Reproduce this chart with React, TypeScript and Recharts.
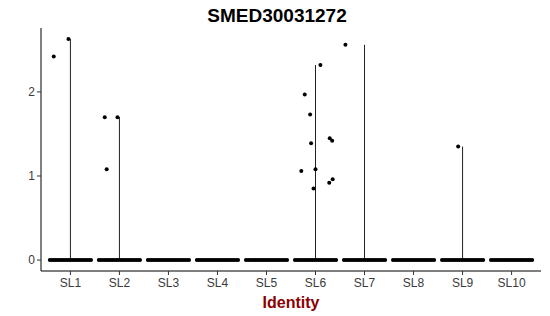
import { ComposedChart, ReferenceLine, Scatter, XAxis, YAxis } from "recharts";

const categories = ["SL1", "SL2", "SL3", "SL4", "SL5", "SL6", "SL7", "SL8", "SL9", "SL10"];

// top of each violin (max expression), 0 where nothing was expressed
const violinMax = [2.63, 1.7, 0, 0, 0, 2.32, 2.56, 0, 1.35, 0];

// expressed cells: [category index (1-based), jitter, value]
const expressed: [number, number, number][] = [
  [1, -0.34, 2.42],
  [1, -0.04, 2.63],
  [2, -0.3, 1.7],
  [2, -0.04, 1.7],
  [2, -0.26, 1.08],
  [6, 0.1, 2.32],
  [6, -0.22, 1.97],
  [6, -0.11, 1.73],
  [6, 0.29, 1.45],
  [6, 0.34, 1.42],
  [6, -0.09, 1.39],
  [6, -0.29, 1.06],
  [6, 0.0, 1.08],
  [6, 0.35, 0.96],
  [6, 0.28, 0.92],
  [6, -0.04, 0.85],
  [7, -0.39, 2.56],
  [9, -0.09, 1.35],
];

// jitter of the cells sitting at zero, reused for every cluster
const zeroJitter = [
  -0.42, -0.38, -0.34, -0.3, -0.26, -0.22, -0.18, -0.14, -0.1, -0.06, -0.02,
  0.02, 0.06, 0.1, 0.14, 0.18, 0.22, 0.26, 0.3, 0.34, 0.38, 0.42,
];

const yTicks = [0, 1, 2];

const zeroPoints = categories.flatMap((_, i) => zeroJitter.map((j) => ({ x: i + 1 + j, y: 0 })));
const expressedPoints = expressed.map(([c, j, v]) => ({ x: c + j, y: v }));

const font = "'Liberation Sans', Arial, sans-serif";

const Dot = (props: any) => <circle cx={props.cx} cy={props.cy} r={2} fill="#000" />;

export default function App() {
  return (
    <div style={{ position: "absolute", left: 0, top: 0, width: 550, height: 316, background: "#fff" }}>
      <div
        style={{
          position: "absolute",
          top: 5,
          left: 0,
          width: 554,
          textAlign: "center",
          fontFamily: font,
          fontWeight: "bold",
          fontSize: 19,
          color: "#000",
        }}
      >
        SMED30031272
      </div>
      <ComposedChart width={550} height={316} margin={{ top: 28, right: 9, bottom: 0, left: 0 }}>
        <XAxis
          type="number"
          dataKey="x"
          domain={[0.4, 10.6]}
          ticks={categories.map((_, i) => i + 1)}
          tickFormatter={(v: number) => categories[v - 1]}
          interval={0}
          allowDataOverflow
          height={45}
          tickSize={4}
          tickMargin={3}
          stroke="#000"
          tickLine={{ stroke: "#333" }}
          tick={{ fill: "#3a3a3a", fontSize: 12, fontFamily: font }}
          label={{
            value: "Identity",
            position: "insideBottom",
            offset: 8,
            fill: "#8B0000",
            fontSize: 16,
            fontWeight: "bold",
            fontFamily: font,
          }}
        />
        <YAxis
          type="number"
          dataKey="y"
          domain={[-0.13, 2.76]}
          ticks={yTicks}
          allowDataOverflow
          width={41}
          tickSize={4}
          stroke="#000"
          tickLine={{ stroke: "#333" }}
          tick={{ fill: "#3a3a3a", fontSize: 12, fontFamily: font }}
        />
        {violinMax.map((m, i) =>
          m > 0 ? (
            <ReferenceLine
              key={categories[i]}
              segment={[
                { x: i + 1, y: 0 },
                { x: i + 1, y: m },
              ]}
              stroke="#222"
              strokeWidth={1}
            />
          ) : null
        )}
        <Scatter data={zeroPoints} shape={Dot} isAnimationActive={false} />
        <Scatter data={expressedPoints} shape={Dot} isAnimationActive={false} />
      </ComposedChart>
    </div>
  );
}
